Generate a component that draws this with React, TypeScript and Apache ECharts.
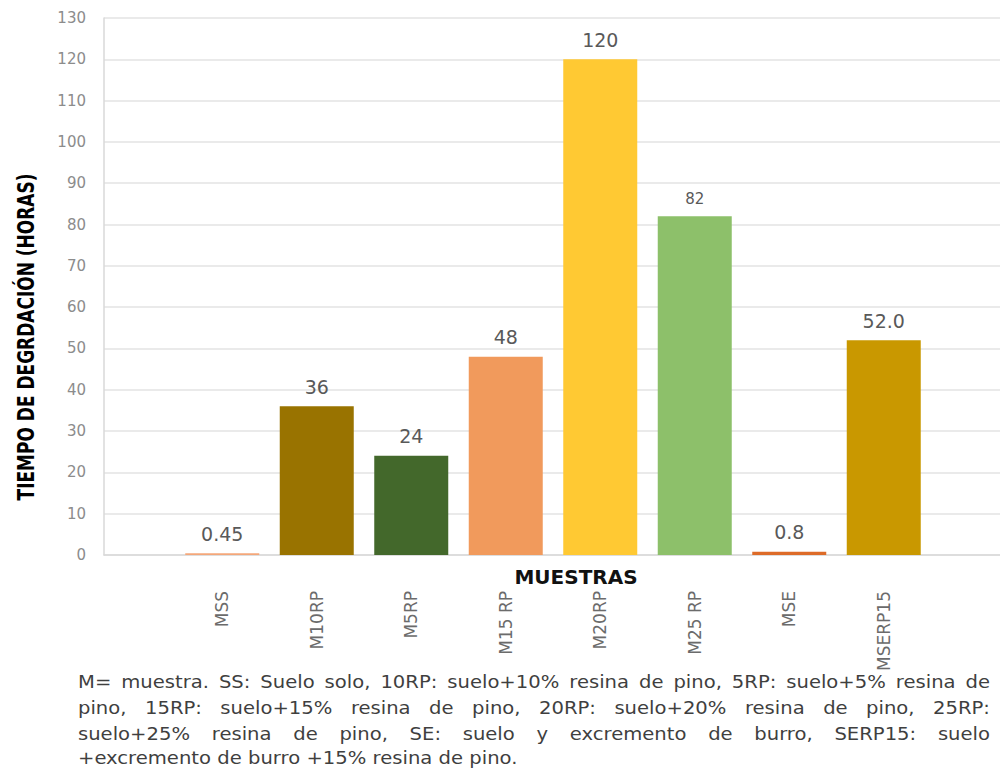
import React, { useEffect, useRef } from "react";
import * as echarts from "echarts";

const categories = ["MSS", "M10RP", "M5RP", "M15 RP", "M20RP", "M25 RP", "MSE", "MSERP15"];
const values = [0.45, 36, 24, 48, 120, 82, 0.8, 52.0];
const valueLabels = ["0.45", "36", "24", "48", "120", "82", "0.8", "52.0"];
const barColors = ["#F4A77A", "#997300", "#43682B", "#F19A5C", "#FFC933", "#8DC06A", "#DD6B28", "#C99800"];
const labelSizes = [19, 19, 19, 19, 19, 15, 19, 19];
const yMin = 0;
const yMax = 130;
const yInterval = 10;
const yTitle = "TIEMPO DE DEGRDACIÓN (HORAS)";
const xTitle = "MUESTRAS";
const footnoteLines = [
  "M= muestra. SS: Suelo solo, 10RP: suelo+10% resina de pino, 5RP: suelo+5% resina de",
  "pino, 15RP: suelo+15% resina de pino, 20RP: suelo+20% resina de pino, 25RP:",
  "suelo+25% resina de pino, SE: suelo y excremento de burro, SERP15: suelo",
  "+excremento de burro +15% resina de pino.",
];

const FONT = "DejaVu Sans";

export default function App() {
  const ref = useRef<HTMLDivElement>(null);

  useEffect(() => {
    if (!ref.current) return;
    const chart = echarts.init(ref.current, undefined, { renderer: "svg" });

    // footnote layout (justified lines, slightly widened glyphs like the source)
    const fnSize = 18;
    const canvas = document.createElement("canvas");
    const ctx = canvas.getContext("2d")!;
    ctx.font = `${fnSize}px "${FONT}"`;
    const fnLeft = 78;
    const fnRight = 990;
    const lastLineRight = 493;
    const fnYs = [682, 708, 734, 758];
    const sxLast = (lastLineRight - fnLeft) / ctx.measureText(footnoteLines[footnoteLines.length - 1]).width;
    const sxFirst = (fnRight - fnLeft) / ctx.measureText(footnoteLines[0]).width;
    const sx = (sxLast + sxFirst) / 2;
    const footGraphics: any[] = [];
    footnoteLines.forEach((line, i) => {
      const words = line.split(" ");
      const widths = words.map((w) => ctx.measureText(w).width * sx);
      const total = widths.reduce((a, b) => a + b, 0);
      const justify = i < footnoteLines.length - 1;
      const gap = justify
        ? (fnRight - fnLeft - total) / (words.length - 1)
        : ctx.measureText(" ").width * sx;
      let x = fnLeft;
      words.forEach((w, j) => {
        footGraphics.push({
          type: "text",
          x,
          y: fnYs[i],
          scaleX: sx,
          style: {
            text: w,
            fill: "#3F3F3F",
            fontSize: fnSize,
            fontFamily: FONT,
            textAlign: "left",
            textVerticalAlign: "middle",
          },
        });
        x += widths[j] + gap;
      });
    });

    const option: any = {
      animation: false,
      backgroundColor: "#ffffff",
      grid: [
        { left: 104, top: 18, width: 896, height: 537 },
        { left: 175, top: 18, width: 756, height: 537 },
      ],
      xAxis: [
        {
          gridIndex: 0,
          type: "value",
          min: 0,
          max: 1,
          axisLine: { show: true, onZero: false, lineStyle: { color: "#D9D9D9", width: 1.5 } },
          axisTick: { show: false },
          axisLabel: { show: false },
          splitLine: { show: false },
        },
        {
          gridIndex: 1,
          type: "category",
          data: categories,
          axisLine: { show: false },
          axisTick: { show: false },
          axisLabel: {
            rotate: 90,
            margin: 36,
            color: "#6B6B6B",
            fontSize: 17,
            fontFamily: FONT,
          },
        },
      ],
      yAxis: [
        {
          gridIndex: 0,
          type: "value",
          min: yMin,
          max: yMax,
          interval: yInterval,
          axisLine: { show: true, lineStyle: { color: "#D9D9D9", width: 1.5 } },
          axisTick: { show: false },
          axisLabel: { color: "#8C8C8C", fontSize: 15, fontFamily: FONT, margin: 18 },
          splitLine: { show: true, lineStyle: { color: "#E3E3E3", width: 1.5 } },
        },
        {
          gridIndex: 1,
          type: "value",
          min: yMin,
          max: yMax,
          interval: yInterval,
          show: false,
          splitLine: { show: false },
        },
      ],
      series: [
        {
          type: "bar",
          xAxisIndex: 1,
          yAxisIndex: 1,
          barWidth: 74,
          data: values.map((v, i) => ({
            value: v,
            itemStyle: { color: barColors[i] },
            label: {
              show: true,
              position: "top",
              distance: 10,
              formatter: valueLabels[i],
              color: "#595959",
              fontSize: labelSizes[i],
              fontFamily: FONT,
            },
          })),
        },
      ],
      graphic: [
        {
          type: "text",
          x: 27,
          y: 337,
          rotation: Math.PI / 2,
          scaleY: 1.3,
          style: {
            text: yTitle,
            fill: "#000000",
            fontSize: 17,
            fontWeight: "bold",
            fontFamily: FONT,
            textAlign: "center",
            textVerticalAlign: "middle",
          },
        },
        {
          type: "text",
          x: 576,
          y: 577,
          style: {
            text: xTitle,
            fill: "#111111",
            fontSize: 20,
            fontWeight: "bold",
            fontFamily: FONT,
            textAlign: "center",
            textVerticalAlign: "middle",
          },
        },
        ...footGraphics,
      ],
    };
    chart.setOption(option);
    return () => chart.dispose();
  }, []);

  return (
    <div
      ref={ref}
      style={{ position: "fixed", left: 0, top: 0, width: 1000, height: 773, background: "#fff" }}
    />
  );
}
